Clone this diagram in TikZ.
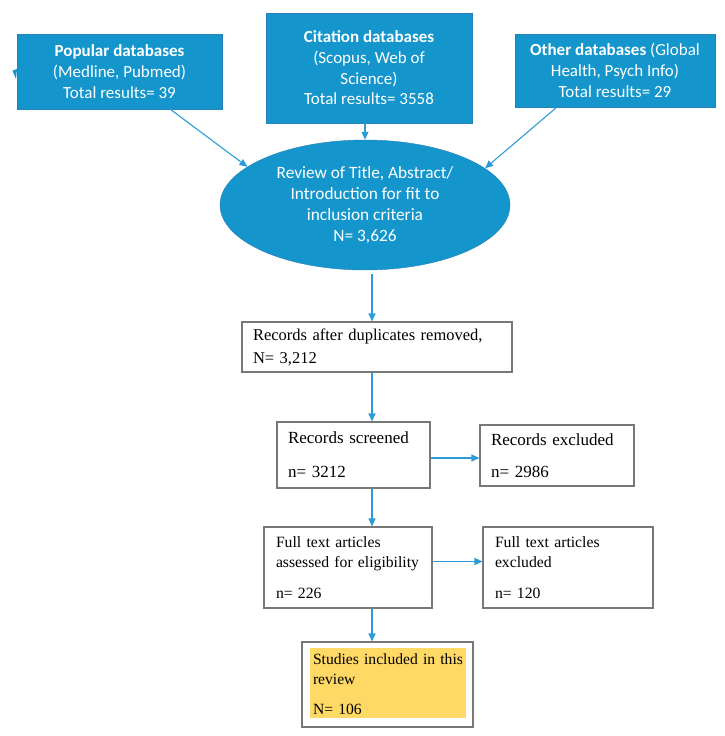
\documentclass[tikz,border=0pt]{standalone}
\usepackage{fontspec}
\setmainfont{Liberation Serif}
\newfontfamily\calibri{Carlito}
\usetikzlibrary{shapes.geometric,arrows.meta}
\definecolor{dbblue}{RGB}{20,150,205}
\definecolor{dbedge}{RGB}{41,128,185}
\definecolor{flowblue}{RGB}{45,155,215}
\definecolor{boxgray}{RGB}{120,120,120}
\definecolor{incyellow}{RGB}{255,217,102}

\begin{document}
\begin{tikzpicture}[x=1pt,y=-1pt,
  dbbox/.style={draw=dbedge, fill=dbblue, text=white, align=center, inner sep=0pt,
    font=\calibri\fontsize{17}{20.7}\selectfont},
  recbox/.style={draw=boxgray, line width=1.1pt, align=left, inner xsep=11pt, inner ysep=0pt},
  flow/.style={draw=flowblue, line width=1.1pt, -{Triangle[length=8pt,width=7pt]}}]

\useasboundingbox (0,0) rectangle (724,736);

% sources
\node[dbbox, minimum width=205pt, minimum height=75pt] (pop) at (119.5,71.5)
  {\textbf{Popular databases}\\(Medline, Pubmed)\\Total results= 39};
\node[dbbox, minimum width=206pt, minimum height=110pt] (cit) at (369,68)
  {\textbf{Citation databases}\\(Scopus, Web of\\Science)\\Total results= 3558};
\node[dbbox, minimum width=200pt, minimum height=73pt] (oth) at (615,70.5)
  {\textbf{Other databases} (Global\\Health, Psych Info)\\Total results= 29};
\fill[dbblue] (17,69) -- (12.5,70.5) -- (16,79) -- cycle;

\node[dbbox, ellipse, minimum width=290pt, minimum height=130pt,
  font=\calibri\fontsize{17.3}{21}\selectfont] (rev) at (365,205)
  {Review of Title, Abstract/\\Introduction for fit to\\inclusion criteria\\N= 3,626};

% screening
\node[recbox, text width=248pt, minimum height=50pt, font=\fontsize{16.5}{23}\selectfont] (dup) at (377,347)
  {Records after duplicates removed,\\N= 3,212};
\node[recbox, text width=131pt, minimum height=66pt, font=\fontsize{17}{20}\selectfont] (scr) at (353.5,455)
  {Records screened\\[14pt]n= 3212};
\node[recbox, text width=132pt, minimum height=61pt, font=\fontsize{17}{20}\selectfont] (excl) at (557,455.5)
  {Records excluded\\[12pt]n= 2986};
\node[recbox, inner xsep=12pt, text width=144pt, minimum height=81pt, font=\fontsize{15.7}{19.5}\selectfont] (full) at (348,567.5)
  {Full text articles\\assessed for eligibility\\[11.5pt]n= 226};
\node[recbox, inner xsep=12pt, text width=146pt, minimum height=81pt, font=\fontsize{15.7}{19.5}\selectfont] (fexcl) at (568,567.5)
  {Full text articles\\excluded\\[11.5pt]n= 120};
\node[recbox, text width=149pt, minimum height=85pt, font=\fontsize{15.6}{20}\selectfont,
  path picture={\fill[incyellow] ([shift={(8,6)}]path picture bounding box.north west)
    rectangle ([shift={(-7,-9)}]path picture bounding box.south east);}] (study) at (387.5,684.5)
  {\mbox{Studies included in this}\\review\\[10pt]N= 106};

\coordinate (spine) at (372,0);

\draw[flow] ([xshift=-52pt]pop.south east) -- (rev.162);
\draw[flow] (cit.south -| rev.north) -- (rev.north);
\draw[flow] ([xshift=42pt]oth.south west) -- (rev.17);
\draw[flow, shorten <=4pt] (rev.south -| spine) -- (dup.north -| spine);
\draw[flow] (dup.south -| spine) -- (scr.north -| spine);
\draw[flow] ([yshift=-3pt]scr.east) -- ([yshift=-3pt]scr.east -| excl.west);
\draw[flow] (scr.south -| spine) -- (full.north -| spine);
\draw[flow] ([yshift=6pt]full.east) -- ([yshift=6pt]full.east -| fexcl.west);
\draw[flow] (full.south -| spine) -- (study.north -| spine);

\end{tikzpicture}
\end{document}
